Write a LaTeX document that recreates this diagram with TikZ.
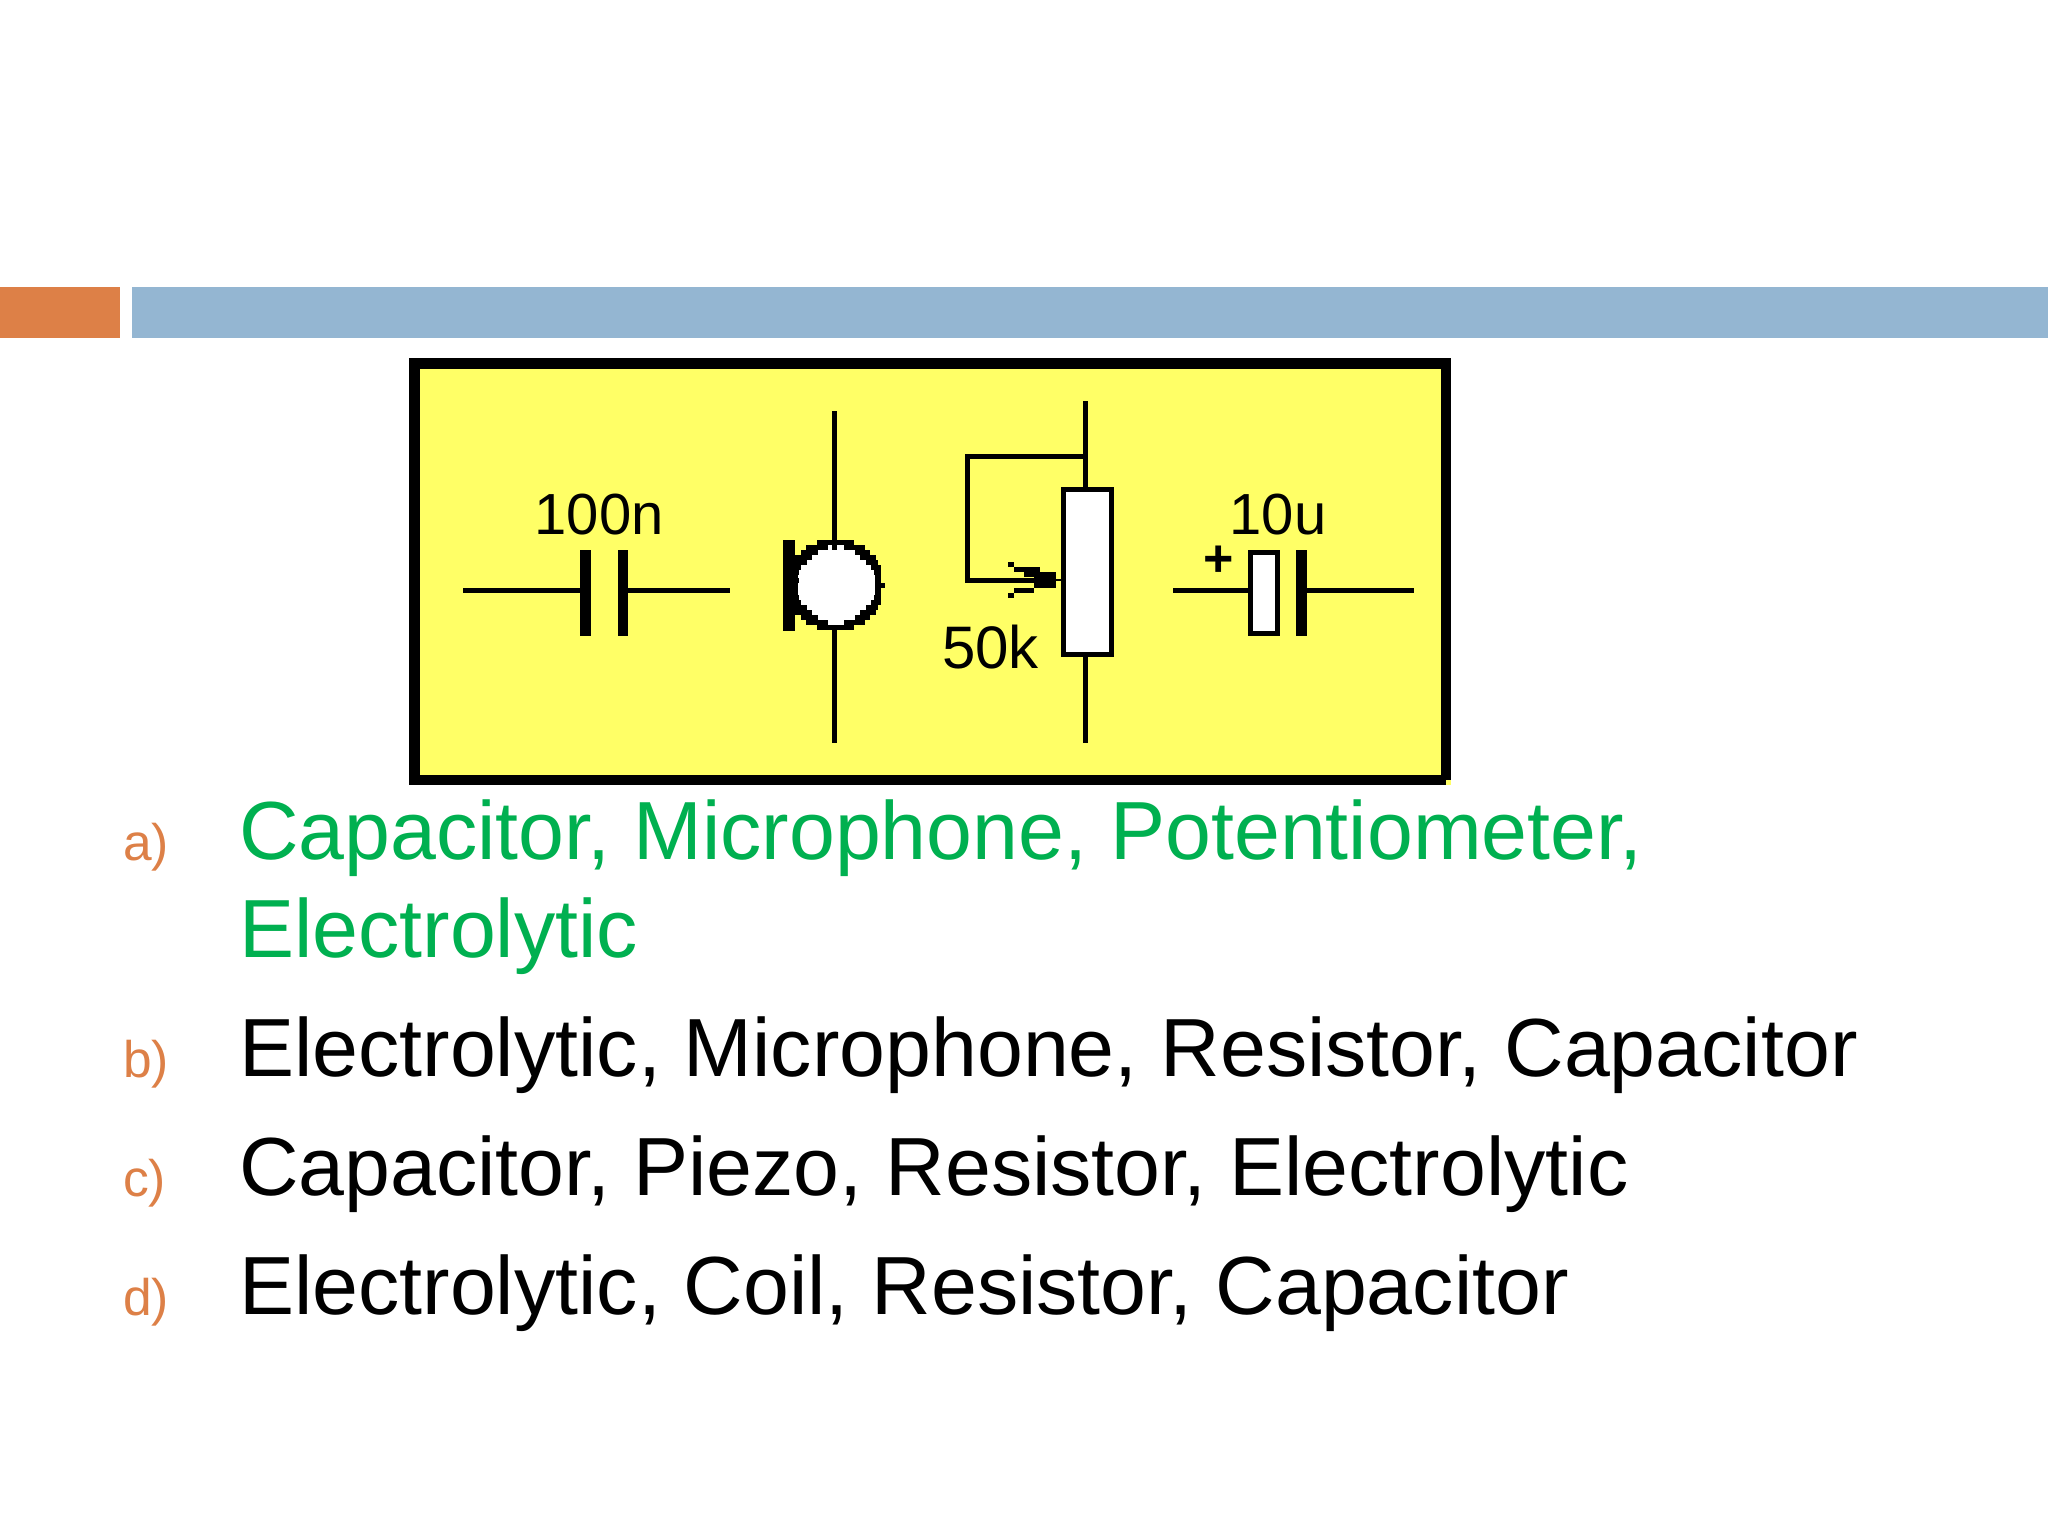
\documentclass[tikz,border=0pt]{standalone}
\usepackage{fontspec}
\setmainfont{Liberation Sans}
\definecolor{barorange}{HTML}{DD8047}
\definecolor{barblue}{HTML}{94B6D2}
\definecolor{panel}{HTML}{FFFF66}
\definecolor{rightgreen}{HTML}{00B050}
\definecolor{labelorange}{HTML}{DD8047}
\tikzset{
  x=1pt,y=-1pt,
  ans/.style={anchor=base west,inner sep=0pt,outer sep=0pt,font=\fontsize{82.5}{96}\selectfont},
  lab/.style={anchor=base west,inner sep=0pt,outer sep=0pt,text=labelorange,font=\fontsize{51.5}{60}\selectfont},
  val/.style={anchor=base west,inner sep=0pt,outer sep=0pt,font=\fontsize{58}{60}\selectfont},
  wire/.style={line width=5pt,black},
  plate/.style={fill=black,draw=none,inner sep=0pt,outer sep=0pt,minimum height=86pt},
  whitebox/.style={rectangle,draw=black,fill=white,line width=5pt,inner sep=0pt,outer sep=0pt},
}
\begin{document}
\begin{tikzpicture}
\useasboundingbox (0,0) rectangle (2048,1536);
\fill[white] (0,0) rectangle (2048,1536);
\fill[barorange] (0,287) rectangle (120,338);
\fill[barblue] (132,287) rectangle (2048,338);
% panel
\draw[fill=panel,draw=black,line width=10.5pt] (414.5,363.5) rectangle (1446,780);
\fill[panel] (1446,780.3) rectangle (1451,785.3);
% capacitor
\coordinate (c1l) at (463,590.5); \coordinate (c1r) at (730,590.5);
\node[plate,minimum width=11pt] (p1) at (585.5,593) {};
\node[plate,minimum width=10pt] (p2) at (623,593) {};
\draw[wire] (c1l) -- (p1.west |- c1l);
\draw[wire] (p2.east |- c1r) -- (c1r);
\node[val] (t100) at (534.5,534) {100n};
% microphone
\coordinate (mt) at (834.5,411); \coordinate (mb) at (834.5,743);
\draw[wire] (mt) -- (mb);
\foreach \h [count=\i] in {3.5,5.5,6.5,7.5,8,8.5,8.5,8.5,8.5,8.5,8.5,8.5,8.5,8,7.5,6.5,5.5,3.5}
  \fill[black] ({835.5-\h*5.36},{540+(\i-1)*5-0.2}) rectangle ({835.5+\h*5.36},{540+\i*5+0.2});
\foreach \h [count=\i] in {1.5,3.5,4.5,5.5,6.5,7,7.2,7.2,7.2,7.2,7,6.5,5.5,4.5,3.5,1.5}
  \fill[white] ({836.3-\h*5.36},{545+(\i-1)*5-0.2}) rectangle ({836.3+\h*5.36},{545+\i*5+0.2});
\fill[black] (832,545) rectangle (837,550);
\fill[black] (794,578) rectangle (799,583);
\fill[black] (880,583) rectangle (885,588);
\node[fill=black,draw=none,inner sep=0pt,minimum width=11.5pt,minimum height=91pt] (mbar) at (788.8,585.5) {};
% potentiometer
\coordinate (pt) at (1085.5,401); \coordinate (pb) at (1085.5,743);
\draw[wire] (pt) -- (pb);
\node[whitebox,minimum width=48pt,minimum height=165.5pt] (pot) at (1087.5,572) {};
\coordinate (loop) at (1085.5,456.5);
\node[fill=black,draw=none,inner sep=0pt,outer sep=0pt,minimum width=22.4pt,minimum height=16pt] (wip) at (1045.2,580) {};
\draw[line width=5pt] (loop) -- (967.5,456.5) -- (967.5,580) -- (wip.west);
\draw[line width=2.5pt] (wip.east) -- (pot.west |- wip.east);
\fill (1008,562) rectangle (1013.6,567);
\fill (1013.6,567) rectangle (1039.6,572);
\fill (1023.6,572) rectangle (1034,577);
\fill (1008,593) rectangle (1013.6,598);
\fill (1013.6,588) rectangle (1034,593);
\node[val,font=\fontsize{60}{62}\selectfont] (t50) at (942,668) {50k};
% electrolytic
\coordinate (e1l) at (1173,590.5); \coordinate (e1r) at (1413.5,590.5);
\node[whitebox,minimum width=27pt,minimum height=81pt] (er) at (1264,593) {};
\node[plate,minimum width=11pt] (ep) at (1301.5,593) {};
\draw[wire] (e1l) -- (er.west |- e1l);
\draw[wire] (ep.east |- e1r) -- (e1r);
\node[val] (t10) at (1229.5,534) {10u};
\node[anchor=center,inner sep=0pt,font=\fontsize{52}{54}\bfseries\selectfont] (tplus) at (1219,561.5) {+};
% answers
\node[lab] (la) at (123,860) {a)};
\node[lab] (lb) at (123,1077.5) {b)};
\node[lab] (lc) at (123,1196.5) {c)};
\node[lab] (ld) at (123,1315.5) {d)};
\node[ans,text=rightgreen] (a1) at (239.2,859) {Capacitor, Microphone, Potentiometer,};
\node[ans,text=rightgreen] (a2) at (239.2,957.5) {Electrolytic};
\node[ans] (b) at (239.2,1076.5) {Electrolytic, Microphone, Resistor, Capacitor};
\node[ans] (c) at (239.2,1195.5) {Capacitor, Piezo, Resistor, Electrolytic};
\node[ans] (d) at (239.2,1314.5) {Electrolytic, Coil, Resistor, Capacitor};
\end{tikzpicture}
\end{document}
